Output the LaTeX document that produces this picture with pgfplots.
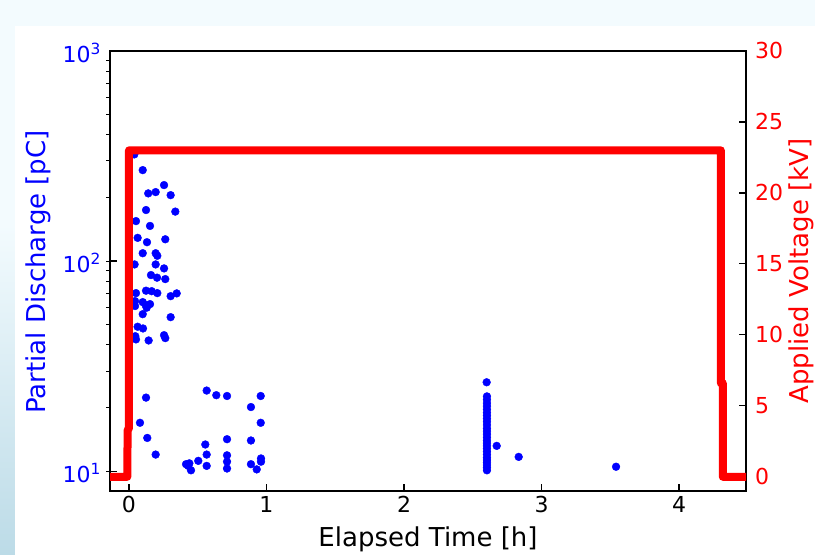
\documentclass[border=0pt]{standalone}
\usepackage{pgfplots}
\pgfplotsset{compat=1.18}
\usepackage{fontspec}
\setmainfont{DejaVu Sans}

\definecolor{bgtop}{RGB}{243,251,254}
\definecolor{bgbot}{RGB}{188,219,231}

% elapsed time [h] vs partial discharge [pC]
\pgfplotstableread{
t pd
0.039 322
0.100 271
0.255 230
0.140 210
0.194 213
0.303 206
0.124 175
0.337 172
0.051 155
0.153 147
0.063 129
0.264 127
0.131 123
0.100 109
0.194 109
0.206 106
0.041 96.4
0.194 96.4
0.255 92.3
0.160 85.8
0.204 83.4
0.264 82.1
0.051 70.4
0.124 72.3
0.165 71.9
0.206 70.4
0.303 68.1
0.347 70.2
0.044 64.5
0.100 63.8
0.121 61.7
0.153 62.4
0.044 61.1
0.129 60.0
0.100 55.9
0.303 54.1
0.063 48.7
0.102 47.8
0.046 43.9
0.051 42.4
0.255 44.4
0.264 43.0
0.143 41.9
0.124 22.4
0.080 17.0
0.133 14.4
0.194 12.0
0.565 24.2
0.635 23.0
0.713 22.8
0.958 22.8
0.887 20.2
0.958 17.0
0.713 14.2
0.887 14.0
0.555 13.4
0.565 12.0
0.713 11.9
0.713 11.1
0.960 11.5
0.960 11.1
0.504 11.2
0.415 10.8
0.439 10.9
0.451 10.1
0.431 10.6
0.565 10.6
0.713 10.3
0.887 10.8
0.929 10.2
2.601 26.5
2.603 22.7
2.603 21.9
2.603 21.1
2.603 20.4
2.603 19.7
2.603 19.0
2.603 18.4
2.603 17.8
2.603 17.2
2.603 16.6
2.603 16.0
2.603 15.5
2.603 15.0
2.603 14.5
2.603 14.0
2.603 13.6
2.603 13.2
2.603 12.8
2.603 12.4
2.603 12.0
2.603 11.6
2.603 11.3
2.603 11.0
2.603 10.7
2.603 10.4
2.603 10.1
2.674 13.2
2.834 11.7
3.542 10.5
}\pdtable

% elapsed time [h] vs applied voltage [kV]
\pgfplotstableread{
t kv
-0.20 0
-0.012 0
-0.010 3.3
0.000 3.4
0.000 23.0
4.304 23.0
4.304 6.6
4.318 6.6
4.318 0
4.60 0
}\kvtable

\pgfplotsset{
  myaxis/.style={
    at={(110bp,64bp)}, anchor=south west,
    scale only axis, width=636bp, height=440bp,
    xmin=-0.138, xmax=4.487,
    tick align=inside,
    major tick length=7bp,
    axis line style={line width=1.2bp, black},
    major tick style={line width=1.2bp, black},
    minor tick style={line width=0.9bp, black},
    tick label style={font=\fontsize{22bp}{26bp}\selectfont},
  },
}

\begin{document}
\begin{tikzpicture}[x=1bp,y=1bp]
\useasboundingbox (0,0) rectangle (815,555);
\fill[bgtop] (0,0) rectangle (815,555);
\shade[top color=bgtop, bottom color=bgbot] (0,0) rectangle (15,330);
\fill[white] (15,0) rectangle (815,529);

\begin{axis}[
    myaxis,
    ymode=log, ymin=8.05, ymax=1000,
    xtick={0,1,2,3,4}, xticklabels={0,1,2,3,4},
    ytick={10,100,1000},
    yticklabels={10\textsuperscript{1},10\textsuperscript{2},10\textsuperscript{3}},
    minor tick length=-4bp,
    xtick pos=left, ytick pos=left,
    xticklabel style={anchor=base, yshift=-22bp},
    yticklabel style={blue, anchor=east, inner sep=0pt, xshift=-9bp, yshift=-2bp},
]
\addplot[only marks, mark=*, mark size=3.9bp, color=blue] table[x=t, y=pd] {\pdtable};
\end{axis}

\begin{axis}[
    myaxis,
    hide x axis,
    axis y line*=right,
    ymin=-1.0, ymax=30,
    ytick={0,5,10,15,20,25,30}, yticklabels={0,5,10,15,20,25,30},
    yticklabel style={red, anchor=west, inner sep=0pt, xshift=9bp},
]
\addplot[red, line width=8bp, line join=round] table[x=t, y=kv] {\kvtable};
\end{axis}

\node[font=\fontsize{26bp}{30bp}\selectfont] at (428,16) {Elapsed Time [h]};
\node[font=\fontsize{26bp}{30bp}\selectfont, blue, rotate=90] at (38,283) {Partial Discharge [pC]};
\node[font=\fontsize{26bp}{30bp}\selectfont, red, rotate=90] at (801,284) {Applied Voltage [kV]};
\end{tikzpicture}
\end{document}
